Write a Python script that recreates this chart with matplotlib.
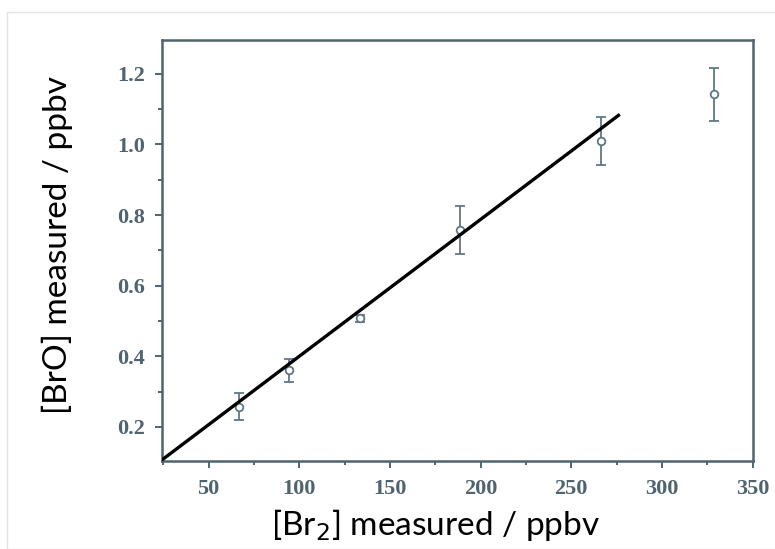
import matplotlib
matplotlib.use("Agg")
import matplotlib.pyplot as plt
from matplotlib.patches import Rectangle
from matplotlib.ticker import MultipleLocator
import numpy as np

# Measured concentrations
br2_ppbv = [66.5, 94.1, 133.3, 188.5, 266.6, 328.7]
bro_ppbv = [0.257, 0.360, 0.508, 0.758, 1.010, 1.142]
bro_err = [0.038, 0.032, 0.010, 0.068, 0.068, 0.075]

# Linear fit over the low-concentration range
fit_slope = 0.003874
fit_intercept = 0.0127
fit_range = [24.0, 276.8]

x_ticks = [50, 100, 150, 200, 250, 300, 350]
y_ticks = [0.2, 0.4, 0.6, 0.8, 1.0, 1.2]

W, H = 775, 549
fig = plt.figure(figsize=(W / 100, H / 100), dpi=100)
fig.patch.set_facecolor("white")

# faint panel border
fig.patches.append(Rectangle((7 / W, 0), 1, 1 - 12 / H, transform=fig.transFigure,
                             fill=False, edgecolor="#e6e2e2", linewidth=1.0))

ax = fig.add_axes([161.5 / W, 1 - 460.5 / H, (752.5 - 161.5) / W, (460.5 - 39.5) / H])

axis_col = "#4f6470"
mark_col = "#5f7886"

fx = np.array(fit_range)
ax.plot(fx, fit_intercept + fit_slope * fx, color="black", lw=2.4, zorder=3,
        solid_capstyle="butt")

ax.errorbar(br2_ppbv, bro_ppbv, yerr=bro_err, fmt="o", ms=5.5, mfc="white",
            mec=mark_col, mew=1.3, ecolor=mark_col, elinewidth=1.3, capsize=3.5,
            capthick=1.3, zorder=2)

ax.set_xlim(24, 350)
ax.set_ylim(0.105, 1.297)
ax.set_xticks(x_ticks)
ax.set_yticks(y_ticks)
ax.set_yticklabels([f"{v:.1f}" for v in y_ticks])
ax.xaxis.set_minor_locator(MultipleLocator(25))
ax.yaxis.set_minor_locator(MultipleLocator(0.1))

for side in ["left", "bottom", "right", "top"]:
    ax.spines[side].set_color(axis_col)
    ax.spines[side].set_linewidth(1.8)

ax.tick_params(which="both", direction="out", top=False, right=False,
               color=axis_col, width=1.4)
ax.tick_params(which="major", length=5, labelsize=16, labelcolor=axis_col)
ax.tick_params(axis="x", which="major", pad=8)
ax.tick_params(axis="y", which="major", pad=7)
ax.tick_params(which="minor", length=3)
for lab in ax.get_xticklabels() + ax.get_yticklabels():
    lab.set_fontfamily("Liberation Serif")
    lab.set_fontweight("bold")

fig.text(57 / W, 1 - 245 / H, "[BrO] measured / ppbv", rotation=90,
         ha="center", va="center", fontsize=24, family="Lato", color="black")
fig.text(436 / W, 1 - 525 / H, "[Br$_2$] measured / ppbv",
         ha="center", va="center", fontsize=24, family="Lato", color="black")

fig.savefig("out.png", dpi=100, facecolor="white")
